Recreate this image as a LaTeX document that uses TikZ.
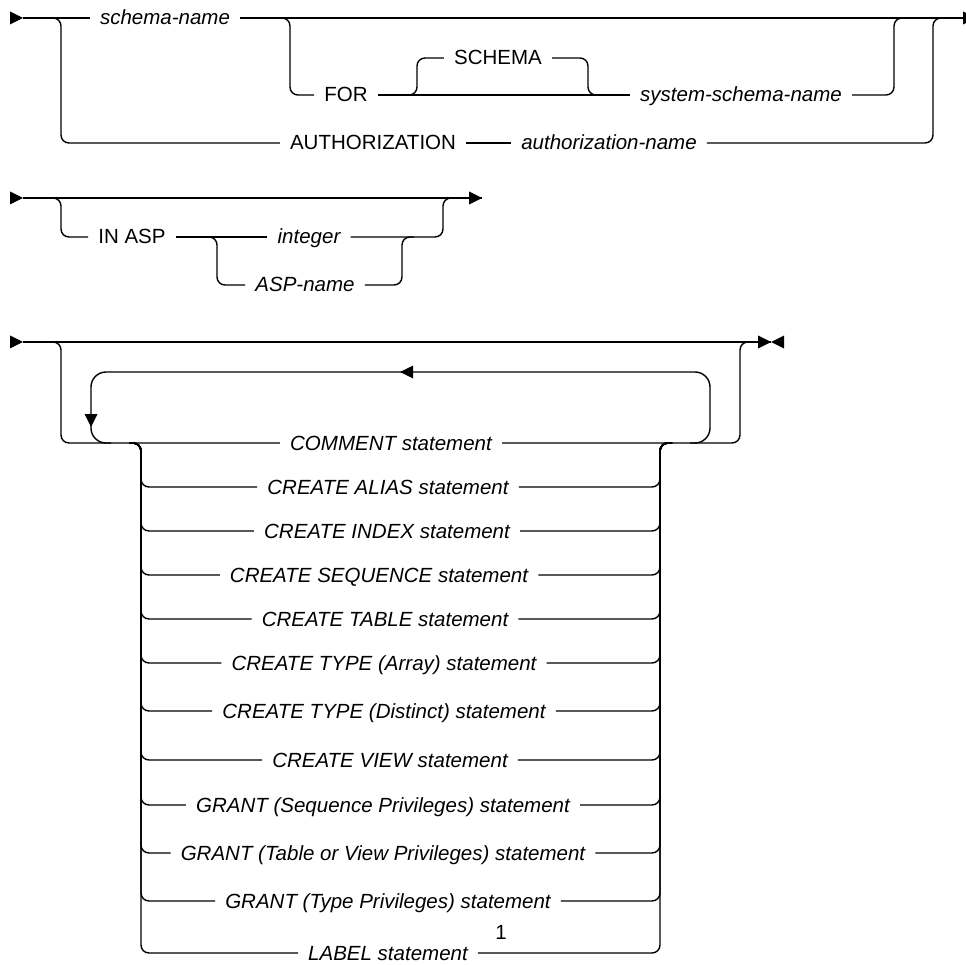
\documentclass[tikz,border=0pt]{standalone}
\usepackage{fontspec}
\setmainfont{Liberation Sans}
\usepackage{tikz}
\usetikzlibrary{arrows.meta}
\tikzset{rail/.style={draw=black,line width=1.4pt,rounded corners=8pt},kw/.style={font=\fontsize{20.5}{24}\selectfont,inner xsep=10pt,inner ysep=0pt,text height=14pt,text depth=0pt},var/.style={kw,font=\fontsize{20.5}{24}\selectfont\itshape},tri/.pic={\fill (0,0) -- (-13,-6.5) -- (-13,6.5) -- cycle;}}
\begin{document}
\begin{tikzpicture}[x=1pt,y=-1pt,loopback/.style={rail,rounded corners=15pt}]
\useasboundingbox (0,0) rectangle (966,965);
% CREATE SCHEMA: name part
\coordinate (a1) at (23,18); \coordinate (z1) at (976,18);
\coordinate (j1) at (50,18); \coordinate (c1) at (61,143);
\coordinate (j2) at (279,18); \coordinate (c2) at (290,95);
\coordinate (j3) at (405,95); \coordinate (c3) at (417,58);
\coordinate (c4) at (588,95); \coordinate (j4) at (600,95);
\coordinate (c5) at (894,18); \coordinate (j5) at (906,18);
\coordinate (c6) at (933,18); \coordinate (j6) at (945,18);
\node[var] (sname) at (165,18) {schema-name};
\node[kw] (for) at (346,95) {FOR};
\node[kw] (schema) at (498,58) {SCHEMA};
\node[var] (ssname) at (741,95) {system-schema-name};
\node[kw] (auth) at (373,143) {AUTHORIZATION};
\node[var] (aname) at (609,143) {authorization-name};
\draw[rail] (a1) -- (sname.west); \draw[rail] (sname.east) -- (z1);
\draw[rail] (j1) -| (c1) -- (auth.west); \draw[rail] (auth.east) -- (aname.west); \draw[rail] (aname.east) -| (c6) -- (j6);
\draw[rail] (j2) -| (c2) -- (for.west); \draw[rail] (for.east) -- (ssname.west); \draw[rail] (ssname.east) -| (c5) -- (j5);
\draw[rail] (j3) -| (c3) -- (schema.west); \draw[rail] (schema.east) -| (c4) -- (j4);
\pic at (a1) {tri}; \pic at (z1) {tri};
% IN ASP
\coordinate (a2) at (23,198); \coordinate (z2) at (482,198);
\coordinate (j7) at (50,198); \coordinate (c7) at (61,237);
\coordinate (j8) at (206,237); \coordinate (c8) at (217,285);
\coordinate (c9) at (402,237); \coordinate (j9) at (414,237);
\coordinate (c10) at (443,198); \coordinate (j10) at (455,198);
\node[kw] (inasp) at (132,237) {IN ASP};
\node[var] (int) at (309,237) {integer};
\node[var] (aspn) at (305,285) {ASP-name};
\draw[rail] (a2) -- (z2);
\draw[rail] (j7) -| (c7) -- (inasp.west); \draw[rail] (inasp.east) -- (int.west); \draw[rail] (int.east) -| (c10) -- (j10);
\draw[rail] (j8) -| (c8) -- (aspn.west); \draw[rail] (aspn.east) -| (c9) -- (j9);
\pic at (a2) {tri}; \pic at (z2) {tri};
% schema statements
\coordinate (a3) at (23,342); \coordinate (z3) at (771,342);
\coordinate (j11) at (50,342); \coordinate (c11) at (61,443);
\coordinate (c12) at (740,342); \coordinate (j12) at (752,342);
\coordinate (lp1) at (690,443); \coordinate (lp2) at (710,372); \coordinate (lp3) at (91,443); \coordinate (lp4) at (111,443);
\coordinate (lt) at (129,443); \coordinate (lv) at (141,443); \coordinate (rv) at (660,443); \coordinate (rt) at (672,443);
\foreach \i/\y/\cx/\t in {1/443/391/COMMENT statement,2/487/388/CREATE ALIAS statement,3/531/387/CREATE INDEX statement,4/575/379/CREATE SEQUENCE statement,5/619/385/CREATE TABLE statement,6/663/384/CREATE TYPE (Array) statement,7/711/384/CREATE TYPE (Distinct) statement,8/760/390/CREATE VIEW statement,9/805/383/GRANT (Sequence Privileges) statement,10/853/383/GRANT (Table or View Privileges) statement,11/901/388/GRANT (Type Privileges) statement,12/953/388/LABEL statement}
  \node[var] (it\i) at (\cx,\y) {\t};
\node[kw,inner xsep=0pt] (fn1) at (501,932) {1};
\draw[rail] (a3) -- (z3);
\draw[rail] (j11) -| (c11) -- (it1.west); \draw[rail] (it1.east) -| (c12) -- (j12);
\draw[loopback] (lp1) -| (lp2) -| (lp3) -- (lp4);
\foreach \i in {2,...,12} {\draw[rail] (lt) -| (it\i.west -| lv) -- (it\i.west); \draw[rail] (it\i.east) -| (rv) -- (rt);}
\pic at (a3) {tri}; \pic at (z3) {tri}; \pic[rotate=180] at (z3) {tri};
\pic[rotate=180] at (400,372) {tri}; \pic[rotate=-90] at (91,427) {tri};
\end{tikzpicture}
\end{document}
